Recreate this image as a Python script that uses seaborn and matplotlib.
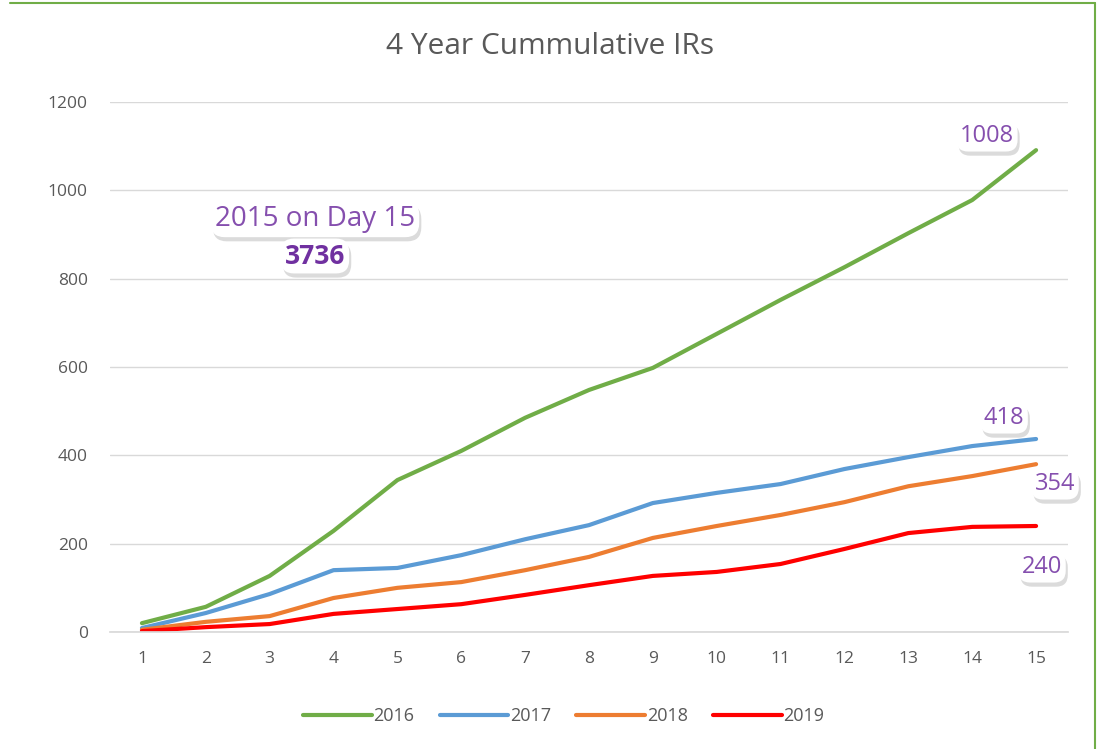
import matplotlib
matplotlib.use("Agg")
import matplotlib.pyplot as plt
import matplotlib.patheffects as pe
from matplotlib.lines import Line2D
import seaborn as sns
import pandas as pd

days = list(range(1, 16))
y2016 = [20, 57, 127, 229, 344, 410, 485, 548, 598, 675, 752, 826, 903, 978, 1091]
y2017 = [9, 43, 86, 140, 145, 174, 210, 242, 292, 315, 335, 369, 396, 421, 437]
y2018 = [5, 23, 36, 77, 100, 113, 140, 170, 213, 240, 265, 294, 330, 353, 380]
y2019 = [2, 11, 18, 41, 52, 63, 84, 106, 127, 136, 154, 188, 224, 238, 240]
series_names = ["2016", "2017", "2018", "2019"]
colors = ["#70AD47", "#5B9BD5", "#ED7D31", "#FF0000"]
yticks = [0, 200, 400, 600, 800, 1000, 1200]

df = pd.concat([
    pd.DataFrame({"Day": days, "IRs": v, "Year": n})
    for n, v in zip(series_names, [y2016, y2017, y2018, y2019])
])

sns.set_theme(style="white")
plt.rcParams["font.family"] = ["Open Sans", "DejaVu Sans"]

fig = plt.figure(figsize=(11.01, 7.49), dpi=100)
ax = fig.add_axes([110 / 1101, 1 - 632 / 749, (1068 - 110) / 1101, (632 - 102) / 749])

sns.lineplot(data=df, x="Day", y="IRs", hue="Year", palette=dict(zip(series_names, colors)),
             linewidth=3, ax=ax, legend=False)

ax.set_xlim(0.5, 15.5)
ax.set_ylim(0, 1200)
ax.set_xticks(days)
ax.set_yticks(yticks)
ax.grid(axis="y", color="#D9D9D9", linewidth=1)
ax.set_axisbelow(True)
for s in ["top", "right", "left"]:
    ax.spines[s].set_visible(False)
ax.spines["bottom"].set_color("#D9D9D9")
ax.tick_params(axis="both", length=0, labelsize=12.5, labelcolor="#595959")
ax.tick_params(axis="x", pad=14)
ax.tick_params(axis="y", pad=16)
ax.set_xlabel("")
ax.set_ylabel("")

fig.text(0.5, 1 - 47 / 749, "4 Year Cummulative IRs", ha="center", va="center",
         fontsize=21.5, color="#595959")

purple = "#7030A0"
def label(x, y, s, size=13, bold=False):
    t = fig.text(x / 1101, 1 - y / 749, s, ha="center", va="center", fontsize=size,
                 color=purple, fontweight="bold" if bold else "normal", alpha=0.85 if not bold else 1,
                 bbox=dict(boxstyle="round,pad=0.15,rounding_size=0.5", fc="white", ec="none"),
                 zorder=10)
    t.get_bbox_patch().set_path_effects([
        pe.withSimplePatchShadow(offset=(1.5, -3), shadow_rgbFace="#9a9a9a", alpha=0.35)])
    return t

label(987, 136, "1008", size=17)
label(1004, 418, "418", size=17)
label(1055, 484, "354", size=17)
label(1042, 567, "240", size=17)
label(315, 219, "2015 on Day 15", size=20)
label(315, 256, "3736", size=19, bold=True)

handles = [Line2D([0], [0], color=c, lw=3) for c in colors]
fig.legend(handles, series_names, loc="center", bbox_to_anchor=(0.512, 1 - 716 / 749), ncol=4,
           frameon=False, fontsize=13, handlelength=3.8, handletextpad=0.1, columnspacing=1.4,
           labelcolor="#595959")

# green chart border (top and right)
fig.add_artist(Line2D([10 / 1101, 1095 / 1101], [1 - 3 / 749, 1 - 3 / 749], color="#70AD47", lw=1.5))
fig.add_artist(Line2D([1095 / 1101, 1095 / 1101], [1 - 3 / 749, 0], color="#70AD47", lw=1.5))

fig.savefig("out.png", dpi=100)
